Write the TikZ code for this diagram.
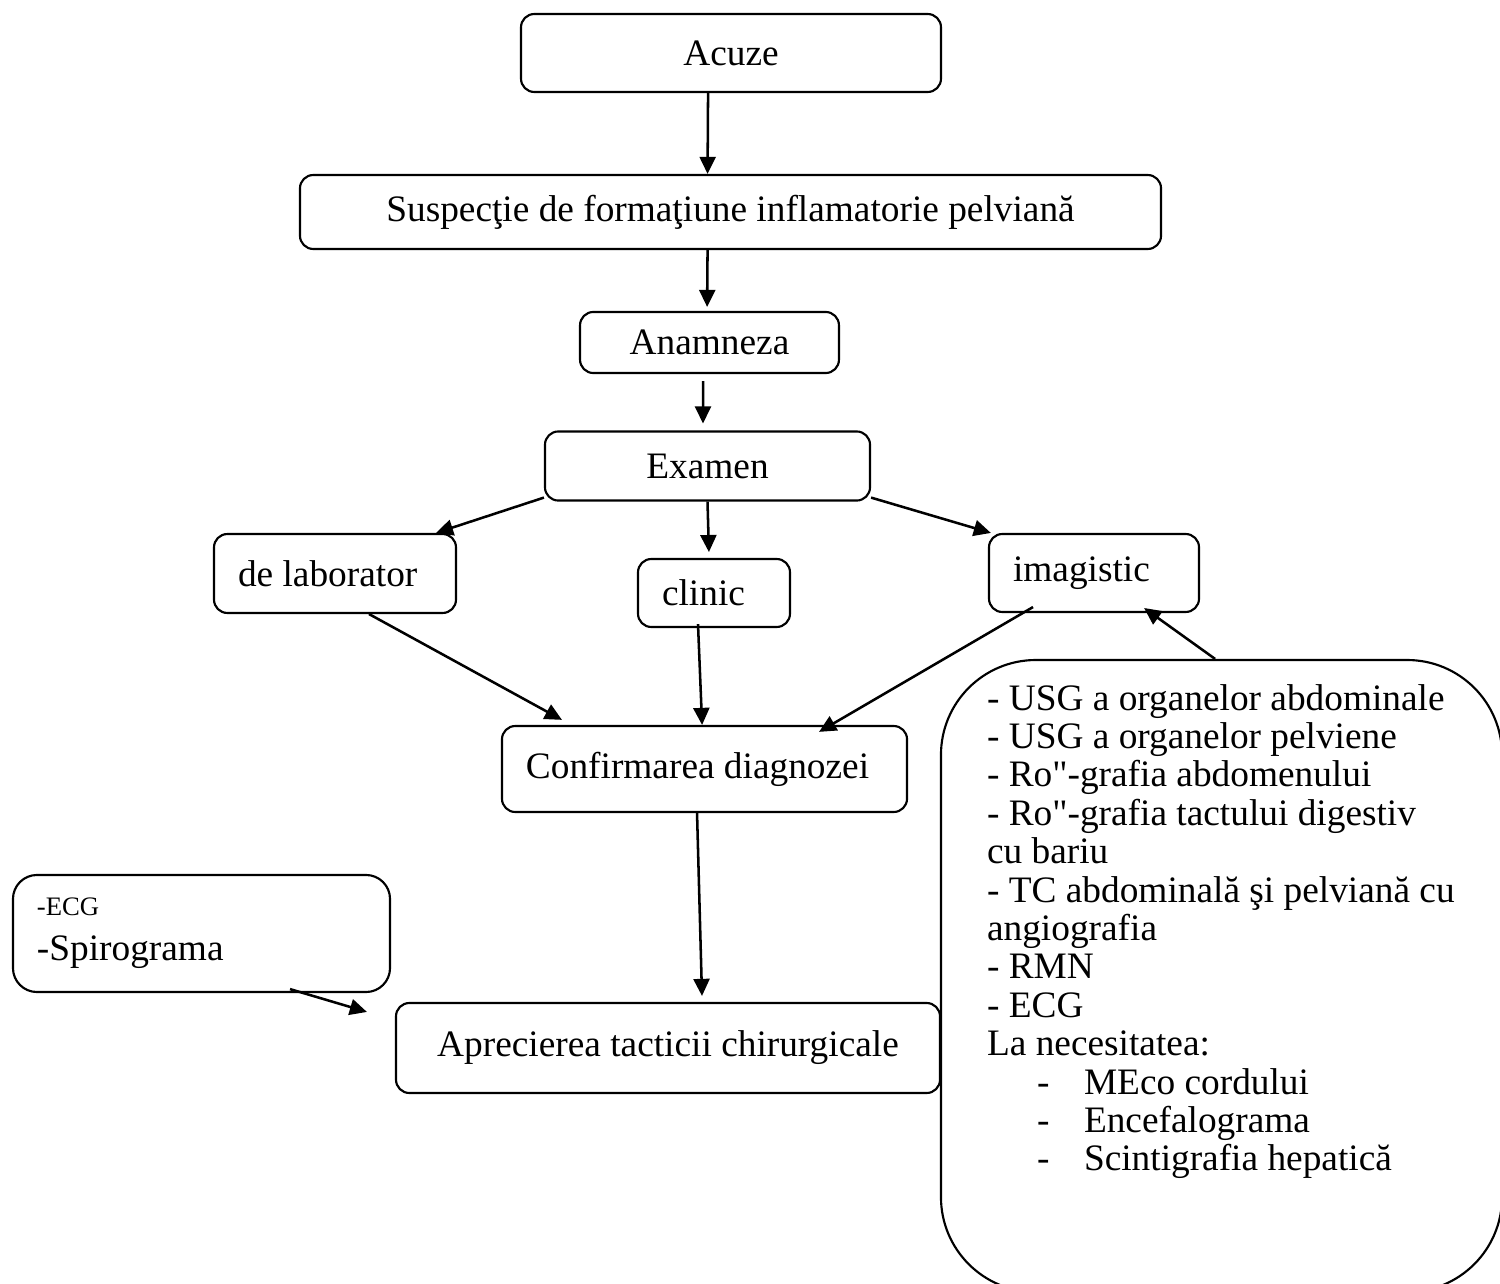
\documentclass[tikz,border=0pt]{standalone}
\usepackage{fontspec}
\setmainfont{Liberation Serif}[Ligatures=TeXOff]
\usepackage{tikz}
\usetikzlibrary{arrows.meta}
\newcommand{\listdash}[1]{\hspace*{18.75pt}\makebox[17.6pt][l]{-}#1}

\begin{document}
\begin{tikzpicture}[x=0.375pt,y=-0.375pt,line width=0.8pt,
  every node/.style={inner sep=0pt,font=\fontsize{14}{14.4}\selectfont},
  box/.style={draw,rounded corners=5pt},
  plaintext/.style={execute at begin node={\raggedright\spaceskip=0pt\xspaceskip=0pt\relax}},
  leftbox/.style={box,inner xsep=9pt,plaintext},
  arr/.style={line width=0.95pt,-{Triangle[length=6.4pt,width=6pt]}}]
\useasboundingbox (0,0) rectangle (1500,1284);
\node (acuze) at (731,53) [box,minimum width=157.5pt,minimum height=29.25pt] {Acuze};
\node (susp) at (730.5,212) [box,minimum width=322.9pt,minimum height=27.75pt] {Suspecţie de formaţiune inflamatorie pelviană};
\node (anam) at (709.5,342.5) [box,minimum width=97.1pt,minimum height=22.9pt] {Anamneza};
\node (exam) at (707.5,466) [box,minimum width=121.9pt,minimum height=25.9pt] {Examen};
\node (lab) at (335,573.5) [leftbox,text width=72.75pt,minimum height=29.6pt] {de laborator};
\node (clin) at (714,593) [leftbox,text width=39pt,minimum height=25.5pt] {clinic};
\node (imag) at (1094,573) [leftbox,text width=60.75pt,minimum height=29.25pt] {imagistic};
\node (conf) at (704.5,769) [leftbox,text width=133.9pt,minimum height=32.25pt] {Confirmarea diagnozei};
\node (apre) at (668,1048) [box,minimum width=204pt,minimum height=33.75pt] {Aprecierea tacticii chirurgicale};
\node (ecg) at (201.5,933.5) [leftbox,rounded corners=9pt,text width=123.4pt,minimum height=43.9pt]
  {{\fontsize{10}{12}\selectfont -ECG}\\[2.5pt]-Spirograma};
% big box on the right, it runs past the page edge
\node (big) at (1221.5,976) [box,rounded corners=35.6pt,minimum width=210.4pt,minimum height=237pt] {};
\node (list) at (986,710) [anchor=base west,text width=195pt,plaintext]
  {- USG a organelor abdominale\\
   - USG a organelor pelviene\\
   - Ro"-grafia abdomenului\\
   - Ro"-grafia tactului digestiv\\
   cu bariu\\
   - TC abdominală şi pelviană cu\\
   angiografia\\
   - RMN\\
   - ECG\\
   La necesitatea:\\
   \listdash{MEco cordului}\\
   \listdash{Encefalograma}\\
   \listdash{Scintigrafia hepatică}};
\draw[arr] ([xshift=-8.6pt]acuze.south) -- ([xshift=-8.6pt]susp.north);
\draw[arr] ([xshift=-8.6pt]susp.south) -- ([xshift=-0.9pt,yshift=1.5pt]anam.north);
\draw[arr] ([xshift=-2.4pt,yshift=-2.6pt]anam.south) -- ([xshift=-1.7pt,yshift=2.6pt]exam.north);
\draw[arr] ([yshift=1.5pt]exam.south west) -- ([xshift=-7.9pt]lab.north east);
\draw[arr] (exam.south) -- ([xshift=-1.9pt,yshift=2.2pt]clin.north);
\draw[arr] ([yshift=1.5pt]exam.south east) -- ([xshift=1.1pt]imag.north west);
\draw[arr] ([xshift=12.75pt]lab.south) -- ([xshift=22.9pt,yshift=1.9pt]conf.north west);
\draw[arr] ([xshift=-6pt,yshift=1.5pt]clin.south) -- ([xshift=-0.9pt]conf.north);
\draw[arr] ([xshift=16.9pt,yshift=2.25pt]imag.south west) -- ([xshift=-33.4pt,yshift=-2.6pt]conf.north east);
\draw[arr] ([xshift=-2.8pt]conf.south) -- ([xshift=12.75pt,yshift=2.25pt]apre.north);
\draw[arr] ([xshift=-37.9pt,yshift=1.5pt]ecg.south east) -- ([xshift=-10.5pt,yshift=-3.75pt]apre.north west);
\draw[arr] ([xshift=-2.4pt]big.north) -- ([xshift=-21pt,yshift=1.9pt]imag.south east);
\end{tikzpicture}
\end{document}
